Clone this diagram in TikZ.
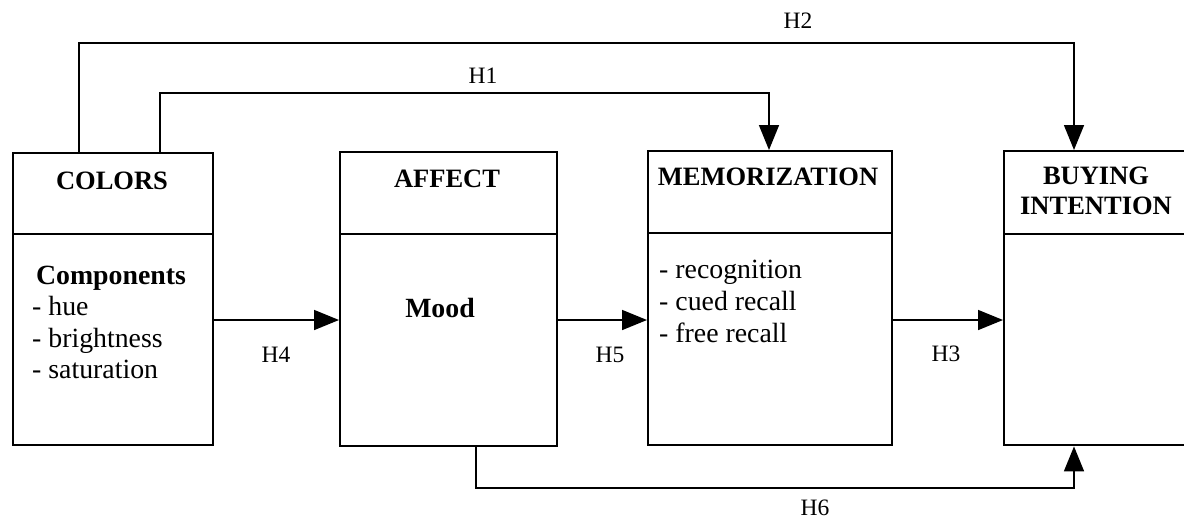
\documentclass[tikz,border=0pt]{standalone}
\usepackage{fontspec}
\setmainfont{Liberation Serif}
\usetikzlibrary{arrows.meta}
\begin{document}
\begin{tikzpicture}[x=1pt,y=-1pt,
  box/.style={draw, line width=2.4pt, inner sep=0pt, anchor=north west},
  conn/.style={line width=1.6pt},
  arr/.style={conn, -{Triangle[length=25pt,width=20pt]}},
  title/.style={font=\fontsize{26.5}{30}\selectfont\bfseries, inner sep=0pt, align=center},
  body/.style={font=\fontsize{27.8}{31.5}\selectfont, inner sep=0pt, anchor=base west},
  lab/.style={font=\fontsize{23.5}{26}\selectfont, inner sep=0pt}]
\clip (0,0) rectangle (1184,520);
\fill[white] (0,0) rectangle (1184,520);
% boxes
\node[box, minimum width=200pt, minimum height=292pt] (colors) at (12,152) {};
\node[box, minimum width=217pt, minimum height=294pt] (affect) at (339,151) {};
\node[box, minimum width=244pt, minimum height=294pt] (memo) at (647,150) {};
\node[box, minimum width=187pt, minimum height=294pt] (buying) at (1003,150) {};
% dividers
\coordinate (d1) at (0,234);
\coordinate (d2) at (0,234);
\coordinate (d3) at (0,233);
\coordinate (d4) at (0,234);
\draw[conn] (colors.west |- d1) -- (colors.east |- d1);
\draw[conn] (affect.west |- d2) -- (affect.east |- d2);
\draw[conn] (memo.west |- d3) -- (memo.east |- d3);
\draw[conn] (buying.west |- d4) -- (buying.east |- d4);
% titles
\node[title] (tcolors) at (112,181) {COLORS};
\node[title] (taffect) at (447,178.5) {AFFECT};
\node[title] (tmemo) at (768,176.5) {MEMORIZATION};
\node[title] (tbuying) at (1096,191) {BUYING\\INTENTION};
% contents
\node[body, anchor=base, font=\fontsize{27.8}{31.5}\selectfont\bfseries] (comp) at (111,284) {Components};
\node[body] (hue) at (32,315.5) {- hue};
\node[body] (bright) at (32,347) {- brightness};
\node[body] (sat) at (32,378.5) {- saturation};
\node[body, anchor=base, font=\fontsize{27.8}{31.5}\selectfont\bfseries] (mood) at (440,317) {Mood};
\node[body] (recog) at (659,278) {- recognition};
\node[body] (cued) at (659,310) {- cued recall};
\node[body] (free) at (659,342) {- free recall};
% connectors
\coordinate (ymid) at (0,320);
\draw[arr] (colors.east |- ymid) -- (affect.west |- ymid);
\draw[arr] (affect.east |- ymid) -- (memo.west |- ymid);
\draw[arr] (memo.east |- ymid) -- (buying.west |- ymid);
\coordinate (h1a) at (160,93);
\coordinate (h1b) at (769,93);
\draw[arr] (colors.north -| h1a) |- (h1b) -- (memo.north -| h1b);
\coordinate (h2a) at (79,43);
\coordinate (h2b) at (1074,43);
\draw[arr] (colors.north -| h2a) |- (h2b) -- (buying.north -| h2b);
\coordinate (h6a) at (476,488);
\coordinate (h6b) at (1074,488);
\draw[arr] (affect.south -| h6a) |- (h6b) -- (buying.south -| h6b);
% labels
\node[lab] (l1) at (483,76) {H1};
\node[lab] (l2) at (798,21) {H2};
\node[lab] (l3) at (946,354) {H3};
\node[lab] (l4) at (276,355) {H4};
\node[lab] (l5) at (610,355) {H5};
\node[lab] (l6) at (815,508) {H6};
\end{tikzpicture}
\end{document}
